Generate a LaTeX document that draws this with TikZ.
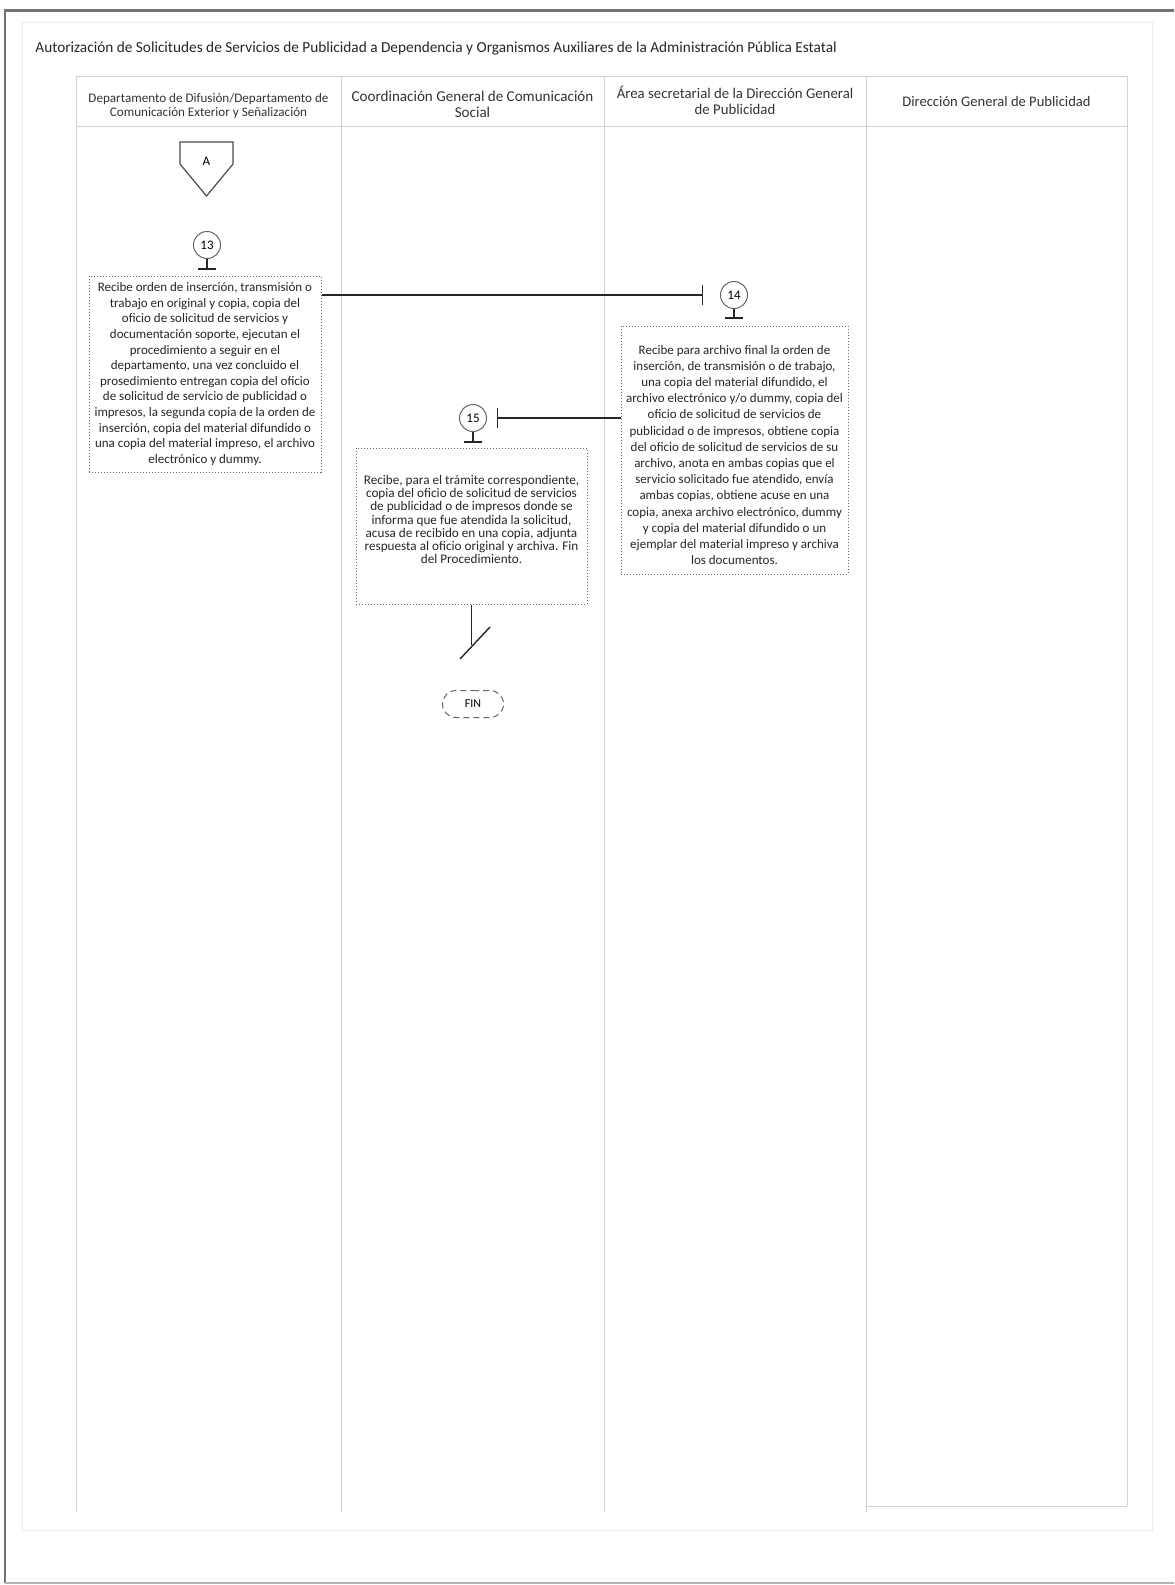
\documentclass[tikz,border=0pt]{standalone}
\usepackage{fontspec}
\setmainfont{Carlito}
\usetikzlibrary{arrows.meta,shapes.misc}
\begin{document}
\begin{tikzpicture}[x=0.5pt,y=-0.5pt,
  lane/.style={draw=black!18,line width=0.5pt},
  procbox/.style={draw=black!60,densely dotted,line width=0.5pt,rectangle,inner sep=0pt},
  boxtext/.style={align=center,text=black!85,font=\fontsize{6.5}{7.8}\selectfont,inner sep=0pt},
  stepnum/.style={circle,draw=black!60,line width=0.5pt,minimum size=13.5pt,inner sep=0pt,font=\fontsize{6.5}{7}\selectfont},
  flow/.style={draw=black!85,line width=0.7pt},
  hdr/.style={align=center,text=black!80,inner sep=0pt}
]
\useasboundingbox (0,0) rectangle (1174,1585);
% outer frame
\draw[black!55,line width=1.5pt] (4,10) -- (1174,10);
\draw[black!55,line width=1.2pt] (5,10) -- (5,1583);
\draw[black!30,line width=0.8pt] (5,1583) -- (1174,1583);
\draw[black!8,line width=0.5pt] (22,22) rectangle (1152,1530);
% title
\node[anchor=west,inner sep=0pt,text=black!85,font=\fontsize{7.65}{8.5}\selectfont] (title) at (35,48) {Autorización de Solicitudes de Servicios de Publicidad a Dependencia y Organismos Auxiliares de la Administración Pública Estatal};
% lanes
\foreach \x in {76,341,604,866} \draw[lane] (\x,76) -- (\x,1512);
\draw[lane] (1127,76) -- (1127,1506);
\draw[lane] (76,76) -- (1127,76);
\draw[lane] (76,126) -- (1127,126);
\draw[lane] (866,1506) -- (1127,1506);
% headers
\node[hdr,font=\fontsize{6.55}{6.7}\selectfont] (h1) at (208.5,106) {Departamento de Difusión/Departamento de\\Comunicación Exterior y Señalización};
\node[hdr,font=\fontsize{7.55}{7.7}\selectfont] (h2) at (472.5,104.5) {Coordinación General de Comunicación\\Social};
\node[hdr,font=\fontsize{7.4}{8}\selectfont] (h3) at (735,100) {Área secretarial de la Dirección General\\de Publicidad};
\node[hdr,font=\fontsize{7.3}{8}\selectfont] (h4) at (996.5,101) {Dirección General de Publicidad};
% off-page connector A
\draw[black!70,line width=0.6pt] (180,142) -- (233,142) -- (233,164) -- (206.5,196) -- (180,164) -- cycle;
\node[font=\fontsize{6.5}{7}\selectfont,inner sep=0pt] (offA) at (206.5,161) {A};
% step circles
\node[stepnum] (c13) at (207,245) {13};
\node[stepnum] (c14) at (734,295) {14};
\node[stepnum] (c15) at (473,418) {15};
% boxes
\node[procbox,minimum width=116pt,minimum height=98pt] (b13) at (205,374) {};
\node[boxtext] (t13) at (b13.center) {Recibe orden de inserción, transmisión o\\trabajo en original y copia, copia del\\oficio de solicitud de servicios y\\documentación soporte, ejecutan el\\procedimiento a seguir en el\\departamento, una vez concluido el\\prosedimiento entregan copia del oficio\\de solicitud de servicio de publicidad o\\impresos, la segunda copia de la orden de\\inserción, copia del material difundido o\\una copia del material impreso, el archivo\\electrónico y dummy.};
\node[procbox,minimum width=113.5pt,minimum height=124pt] (b14) at (734.5,450) {};
\node[boxtext,font=\fontsize{6.5}{8.1}\selectfont] (t14) at (734.5,455) {Recibe para archivo final la orden de\\inserción, de transmisión o de trabajo,\\una copia del material difundido, el\\archivo electrónico y/o dummy, copia del\\oficio de solicitud de servicios de\\publicidad o de impresos, obtiene copia\\del oficio de solicitud de servicios de su\\archivo, anota en ambas copias que el\\servicio solicitado fue atendido, envía\\ambas copias, obtiene acuse en una\\copia, anexa archivo electrónico, dummy\\y copia del material difundido o un\\ejemplar del material impreso y archiva\\los documentos.};
\node[procbox,minimum width=115.5pt,minimum height=78pt] (b15) at (471.5,526) {};
\node[boxtext,font=\fontsize{6.6}{6.6}\selectfont] (t15) at (471.5,519.5) {Recibe, para el trámite correspondiente,\\copia del oficio de solicitud de servicios\\de publicidad o de impresos donde se\\informa que fue atendida la solicitud,\\acusa de recibido en una copia, adjunta\\respuesta al oficio original y archiva. Fin\\del Procedimiento.};
% connectors
\draw[flow,-{Bar[width=9pt,line width=0.7pt]},shorten >=3pt] (c13.south) -- (c13.south |- b13.north);
\draw[flow,-{Bar[width=10pt,line width=0.7pt]},shorten >=8.5pt] (b13.east |- c14) -- (c14.west);
\draw[flow,-{Bar[width=9pt,line width=0.7pt]},shorten >=3.5pt] (c14.south) -- (c14.south |- b14.north);
\draw[flow,-{Bar[width=10pt,line width=0.7pt]},shorten >=5pt] (b14.west |- c15) -- (c15.east);
\draw[flow,-{Bar[width=9pt,line width=0.7pt]},shorten >=2.5pt] (c15.south) -- (c15.south |- b15.north);
\coordinate (yend) at (471.5,645);
\draw[flow] (b15.south) -- (yend);
\coordinate (d1) at (460,659);
\coordinate (d2) at (490,627);
\draw[flow] (d1) -- (d2);
\node[rounded rectangle,draw=black!60,densely dashed,line width=0.5pt,minimum width=32.5pt,minimum height=13.5pt,inner sep=1pt,font=\fontsize{6}{6.5}\selectfont] (fin) at (473,704) {FIN};
\end{tikzpicture}
\end{document}
